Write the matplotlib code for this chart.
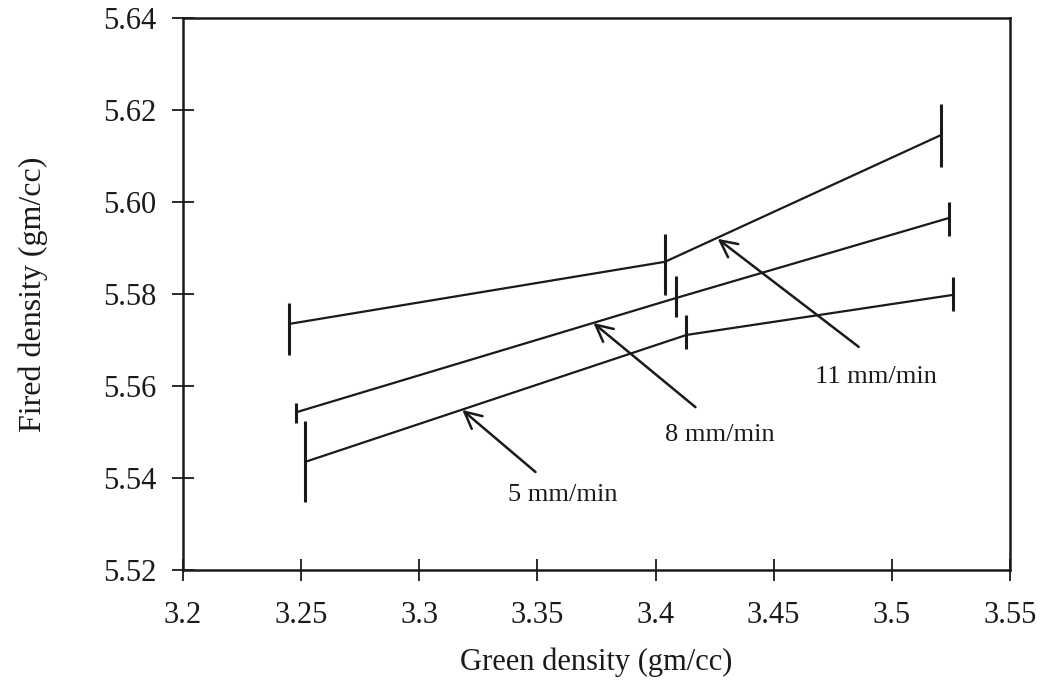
import matplotlib.pyplot as plt

plt.rcParams['font.family'] = ['Liberation Serif', 'DejaVu Serif']

# green density (gm/cc), fired density (gm/cc) and error bars per ram speed
green_11 = [3.245, 3.404, 3.521]
fired_11 = [5.5735, 5.5870, 5.6146]
err_lo_11 = [0.0068, 0.0072, 0.0070]
err_hi_11 = [0.0045, 0.0060, 0.0067]

green_8 = [3.248, 3.4085, 3.524]
fired_8 = [5.5543, 5.5791, 5.5965]
err_lo_8 = [0.0023, 0.0041, 0.0039]
err_hi_8 = [0.0020, 0.0048, 0.0035]

green_5 = [3.2517, 3.4131, 3.5258]
fired_5 = [5.5435, 5.5711, 5.5798]
err_lo_5 = [0.0087, 0.0031, 0.0035]
err_hi_5 = [0.0089, 0.0043, 0.0039]

series_labels = ['11 mm/min', '8 mm/min', '5 mm/min']

x_ticks = [3.2, 3.25, 3.3, 3.35, 3.4, 3.45, 3.5, 3.55]
x_tick_labels = ['3.2', '3.25', '3.3', '3.35', '3.4', '3.45', '3.5', '3.55']
y_ticks = [5.52, 5.54, 5.56, 5.58, 5.60, 5.62, 5.64]
y_tick_labels = ['5.52', '5.54', '5.56', '5.58', '5.60', '5.62', '5.64']

fig = plt.figure(figsize=(10.48, 6.93), dpi=100)
ax = fig.add_axes([0.1746, 0.1775, 0.7891, 0.7965])

ink = '#1a1a1a'
for g, f, lo, hi in [(green_11, fired_11, err_lo_11, err_hi_11),
                     (green_8, fired_8, err_lo_8, err_hi_8),
                     (green_5, fired_5, err_lo_5, err_hi_5)]:
    ax.plot(g, f, color=ink, lw=1.6)
    ax.errorbar(g, f, yerr=[lo, hi], fmt='none', ecolor=ink, elinewidth=2.2, capsize=0)

# arrows pointing from each label to its line
arrows = [((3.4263, 5.5920), (3.4860, 5.5685)),
          ((3.3737, 5.5737), (3.4169, 5.5554)),
          ((3.3182, 5.5548), (3.3492, 5.5413))]
label_pos = [(3.4932, 5.5620), (3.4271, 5.5493), (3.3606, 5.5363)]
arrow_style = dict(arrowstyle='->', color=ink, lw=1.8, mutation_scale=30,
                   shrinkA=0, shrinkB=0)
for (head, tail), (lx, ly), lab in zip(arrows, label_pos, series_labels):
    ax.annotate('', xy=head, xytext=tail, arrowprops=arrow_style)
    ax.text(lx, ly, lab, fontsize=19, ha='center', va='center', color=ink)

ax.set_xlim(3.2, 3.55)
ax.set_ylim(5.52, 5.64)
ax.set_xticks(x_ticks)
ax.set_xticklabels(x_tick_labels)
ax.set_yticks(y_ticks)
ax.set_yticklabels(y_tick_labels)
ax.tick_params(axis='x', direction='inout', length=16, width=1.3, pad=14,
               labelsize=22, colors=ink)
ax.tick_params(axis='y', direction='inout', length=16, width=1.3, pad=11,
               labelsize=22, colors=ink)

for side in ['left', 'bottom', 'top', 'right']:
    ax.spines[side].set_linewidth(1.8)
    ax.spines[side].set_color(ink)

ax.set_xlabel('Green density (gm/cc)', fontsize=22, labelpad=13, color=ink)
ax.set_ylabel('Fired density (gm/cc)', fontsize=23, labelpad=40, color=ink)

fig.savefig('out.png', dpi=100, facecolor='white')
